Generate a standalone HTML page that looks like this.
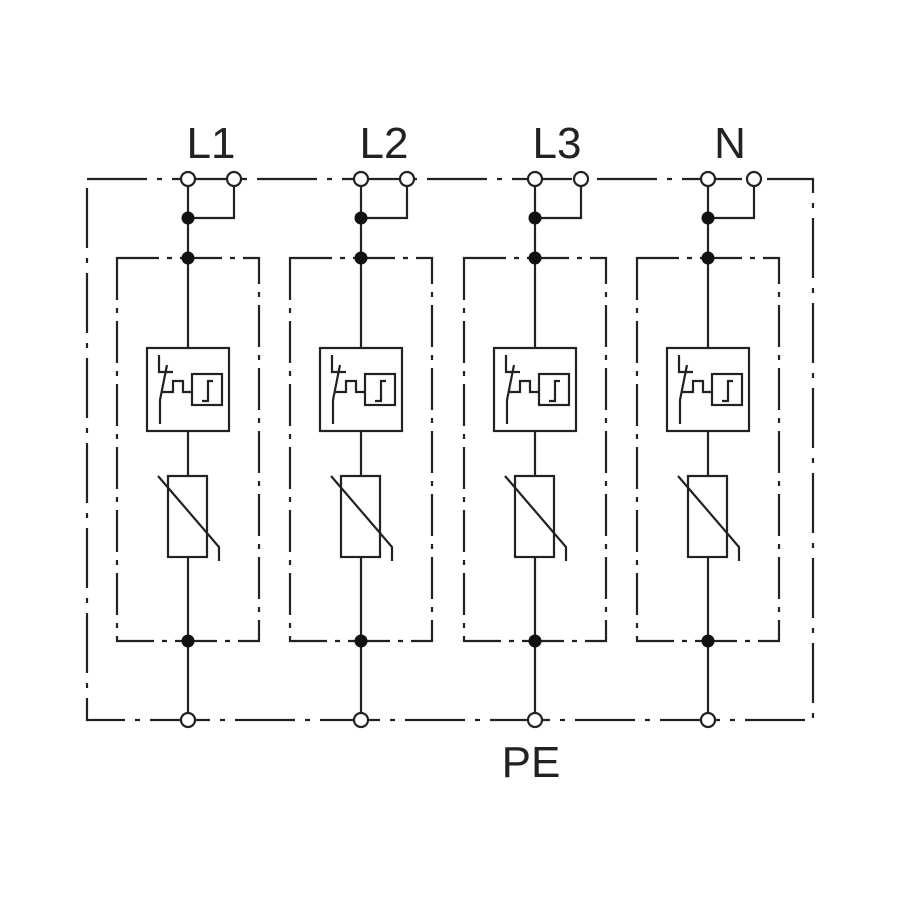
<!DOCTYPE html>
<html><head><style>html,body{margin:0;padding:0;background:#fff}svg{display:block}</style></head><body>
<svg width="900" height="900" viewBox="0 0 900 900" xmlns="http://www.w3.org/2000/svg">
<defs>
<g id="col" fill="none" stroke="#222" stroke-width="2.2">
  <path d="M0 186V218H46V186"/>
  <path d="M0 218V348M0 431V476M0 557V720"/>
  <rect x="-71" y="258" width="142" height="383" stroke-dasharray="42 8 5 8"/>
  <rect x="-41" y="348" width="82" height="83"/>
  <path d="M-29 355V372H-15M-21 365L-28 400V424M-26 392H-15V381H-5V392H4"/>
  <rect x="4" y="374" width="30" height="31"/>
  <path d="M14 401H20V381H25"/>
  <rect x="-20" y="476" width="39" height="81"/>
  <path d="M-30 476L31 547V561"/>
  <circle cx="0" cy="218" r="6.5" fill="#111" stroke="none"/>
  <circle cx="0" cy="258" r="6.5" fill="#111" stroke="none"/>
  <circle cx="0" cy="641" r="6.5" fill="#111" stroke="none"/>
  <circle cx="0" cy="179" r="7" fill="#fff"/>
  <circle cx="46" cy="179" r="7" fill="#fff"/>
  <circle cx="0" cy="720" r="7" fill="#fff"/>
</g>
</defs>
<rect x="87" y="179" width="726" height="541" fill="none" stroke="#222" stroke-width="2.2" stroke-dasharray="60 10 5 10"/>
<use href="#col" x="188"/>
<use href="#col" x="361"/>
<use href="#col" x="535"/>
<use href="#col" x="708"/>
<g font-family="Liberation Sans, sans-serif" font-size="44" fill="#222" text-anchor="middle">
<text x="211" y="158">L1</text>
<text x="384" y="158">L2</text>
<text x="557" y="158">L3</text>
<text x="730" y="158">N</text>
<text x="531" y="777">PE</text>
</g>
</svg>
</body></html>
